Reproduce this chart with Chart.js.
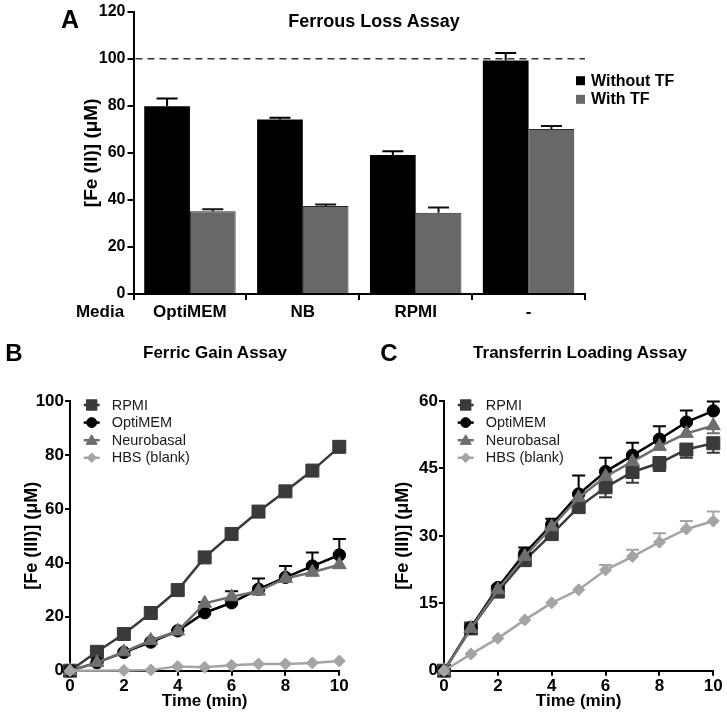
<!DOCTYPE html>
<html><head><meta charset="utf-8">
<script src="https://cdn.jsdelivr.net/npm/chart.js@4.4.1/dist/chart.umd.min.js"></script>
<style>
html,body{margin:0;padding:0;background:#fff;width:727px;height:715px;overflow:hidden}
body{position:relative;font-family:"Liberation Sans",Arial,sans-serif}
canvas{position:absolute}
.t{position:absolute;font-weight:bold;color:#000;white-space:nowrap;line-height:1;transform:translate(-50%,-50%)}
</style></head><body>
<canvas id="cA" width="727" height="330" style="left:0;top:0"></canvas>
<canvas id="cB" width="364" height="385" style="left:0;top:330px"></canvas>
<canvas id="cC" width="363" height="385" style="left:364px;top:330px"></canvas>
<div class="t" style="left:70px;top:19px;font-size:25px">A</div>
<div class="t" style="left:374px;top:21px;font-size:18px">Ferrous Loss Assay</div>
<div class="t" style="left:100px;top:311px;font-size:17px">Media</div>
<div class="t" style="left:14px;top:353px;font-size:24px">B</div>
<div class="t" style="left:215px;top:352px;font-size:17px">Ferric Gain Assay</div>
<div class="t" style="left:389px;top:353px;font-size:24px">C</div>
<div class="t" style="left:580px;top:352px;font-size:17px">Transferrin Loading Assay</div>
<script>
// ---------- Panel A data ----------
const mediaLabels = ['OptiMEM', 'NB', 'RPMI', '-'];
const withoutTF = [79.8, 74.2, 59.1, 99.3];
const withTF = [35.2, 37.4, 34.5, 70.1];
const withoutTFErr = [3.3, 0.7, 1.6, 3.1];
const withTFErr = [0.8, 0.6, 2.3, 1.3];
const yTicksA = [0, 20, 40, 60, 80, 100, 120];
const refLineA = 100;

// ---------- Panel B data ----------
const times = [0, 1, 2, 3, 4, 5, 6, 7, 8, 9, 10];
const rpmiB = [0, 7.0, 13.6, 21.4, 29.9, 42.0, 50.7, 59.0, 66.5, 74.2, 83.0];
const optiB = [0, 3.0, 6.8, 10.6, 14.8, 21.5, 25.2, 30.2, 34.6, 38.8, 42.9];
const neuroB = [0, 3.0, 7.0, 11.2, 14.7, 25.0, 27.4, 29.5, 34.2, 36.5, 39.3];
const hbsB = [0, null, 0.1, 0.3, 1.6, 1.3, 2.0, 2.5, 2.5, 2.9, 3.6];
const rpmiBErrUp = [0, 0, 0, 0, 0, 0, 0, 0, 0, 0, 2.0];
const optiBErrUp = [0, 0, 0, 0, 0, 4.0, 4.3, 4.0, 4.2, 5.0, 5.9];
const xTicksBC = [0, 2, 4, 6, 8, 10];
const yTicksB = [0, 20, 40, 60, 80, 100];

// ---------- Panel C data ----------
const rpmiC = [0, 9.4, 17.6, 24.6, 30.4, 36.4, 40.8, 44.2, 46.2, 49.2, 50.6];
const optiC = [0, 9.6, 18.5, 26.1, 32.5, 39.3, 44.3, 47.9, 51.5, 55.3, 57.8];
const neuroC = [0, 9.4, 18.0, 25.4, 32.0, 38.5, 43.2, 46.5, 49.9, 52.8, 54.5];
const hbsC = [0, 3.7, 7.2, 11.3, 15.1, 18.0, 22.4, 25.4, 28.6, 31.5, 33.3];
const rpmiCErrDown = [0, 0, 0, 0.8, 0.8, 1.3, 2.2, 2.4, 1.8, 1.8, 2.1];
const optiCErrUp = [0, 0, 0, 1.3, 1.3, 4.1, 3.1, 2.8, 2.9, 2.6, 2.1];
const neuroCErrDown = [0, 0, 0, 0, 0, 0, 0, 0, 0, 0, 1.7];
const hbsCErrUp = [0, 0, 0, 0, 0, 0, 1.1, 1.5, 2.0, 1.8, 2.1];
const yTicksC = [0, 15, 30, 45, 60];

const seriesNames = ['RPMI', 'OptiMEM', 'Neurobasal', 'HBS (blank)'];
const seriesColors = ['#3a3a3a', '#000000', '#6e6e6e', '#a4a4a4'];
const seriesStyles = ['rect', 'circle', 'triangle', 'rectRot'];
const seriesRadius = [9.2, 6.2, 8, 6];

Chart.defaults.font.family = '"Liberation Sans", Arial, sans-serif';
Chart.defaults.color = '#000';

function drawMarker(ctx, style, x, y, r, color) {
  ctx.save();
  ctx.fillStyle = color; ctx.strokeStyle = color; ctx.lineWidth = 1;
  ctx.beginPath();
  if (style === 'rect') {
    const s = r * Math.SQRT1_2; ctx.rect(x - s, y - s, 2 * s, 2 * s);
  } else if (style === 'circle') {
    ctx.arc(x, y, r, 0, Math.PI * 2);
  } else if (style === 'triangle') {
    const a = -Math.PI / 2;
    for (let k = 0; k < 3; k++) {
      const ang = a + k * 2 * Math.PI / 3;
      const px = x + r * Math.cos(ang), py = y + r * Math.sin(ang) + r * 0.15;
      k ? ctx.lineTo(px, py) : ctx.moveTo(px, py);
    }
    ctx.closePath();
  } else if (style === 'rectRot') {
    ctx.moveTo(x, y - r); ctx.lineTo(x + r, y); ctx.lineTo(x, y + r); ctx.lineTo(x - r, y); ctx.closePath();
  }
  ctx.fill(); ctx.stroke();
  ctx.restore();
}

function drawErrors(chart, opts) {
  const ctx = chart.ctx;
  chart.data.datasets.forEach((ds, i) => {
    const meta = chart.getDatasetMeta(i);
    const ys = chart.scales[meta.yAxisID];
    meta.data.forEach((el, j) => {
      const raw = ds.data[j];
      const v = (raw && typeof raw === 'object') ? raw.y : raw;
      if (v == null) return;
      const up = ds.errUp ? ds.errUp[j] : 0;
      const dn = ds.errDown ? ds.errDown[j] : 0;
      const x = el.x, y0 = ys.getPixelForValue(v);
      ctx.save();
      ctx.strokeStyle = ds.errColor || '#000';
      ctx.lineWidth = opts.lineWidth;
      ctx.beginPath();
      [[up, 1], [dn, -1]].forEach(([e, sgn]) => {
        if (!e) return;
        const y1 = ys.getPixelForValue(v + sgn * e);
        ctx.moveTo(x, y0); ctx.lineTo(x, y1);
        ctx.moveTo(x - opts.cap / 2, y1); ctx.lineTo(x + opts.cap / 2, y1);
      });
      ctx.stroke();
      ctx.restore();
    });
  });
}
const errorBarsPlugin = {
  id: 'errorBars',
  beforeDatasetsDraw(chart, args, opts) { if (opts.phase === 'before') drawErrors(chart, opts); },
  afterDatasetsDraw(chart, args, opts) { if (opts.phase === 'after') drawErrors(chart, opts); }
};

const refLinePlugin = {
  id: 'refLine',
  afterDatasetsDraw(chart, args, opts) {
    const ctx = chart.ctx, a = chart.chartArea;
    const y = chart.scales.y.getPixelForValue(opts.value);
    ctx.save();
    ctx.strokeStyle = '#333'; ctx.lineWidth = 1.3; ctx.setLineDash([7, 5]);
    ctx.beginPath(); ctx.moveTo(a.left + 2, y); ctx.lineTo(a.right, y); ctx.stroke();
    ctx.restore();
  }
};

const barLegendPlugin = {
  id: 'barLegend',
  afterDraw(chart, args, opts) {
    const ctx = chart.ctx;
    chart.data.datasets.forEach((ds, i) => {
      const y = opts.y + i * opts.rowH;
      ctx.save();
      ctx.fillStyle = ds.backgroundColor;
      ctx.fillRect(opts.x, y - 4.5, 9, 9);
      ctx.fillStyle = '#000';
      ctx.font = 'bold 16px "Liberation Sans", Arial, sans-serif';
      ctx.textBaseline = 'middle';
      ctx.fillText(ds.label, opts.x + 15, y + 0.5);
      ctx.restore();
    });
  }
};

const seriesLegendPlugin = {
  id: 'seriesLegend',
  afterDraw(chart, args, opts) {
    const ctx = chart.ctx;
    chart.data.datasets.forEach((ds, i) => {
      const y = opts.y + i * opts.rowH;
      ctx.save();
      ctx.strokeStyle = ds.borderColor; ctx.lineWidth = 2.5;
      ctx.beginPath(); ctx.moveTo(opts.x - 8, y); ctx.lineTo(opts.x + 8, y); ctx.stroke();
      ctx.restore();
      drawMarker(ctx, ds.pointStyle, opts.x, y, ds.legendRadius, ds.borderColor);
      ctx.save();
      ctx.fillStyle = '#1a1a1a';
      ctx.font = '14.5px "Liberation Sans", Arial, sans-serif';
      ctx.textBaseline = 'middle';
      ctx.fillText(ds.label, opts.x + 20, y + 0.5);
      ctx.restore();
    });
  }
};

function axisCommon(tickLen) {
  return {
    grid: { display: true, drawOnChartArea: false, drawTicks: true, tickLength: tickLen, color: '#000', lineWidth: 2 },
    border: { display: true, color: '#000', width: 2 }
  };
}

// ---------- Chart A ----------
new Chart(document.getElementById('cA'), {
  type: 'bar',
  data: {
    labels: mediaLabels,
    datasets: [
      { label: 'Without TF', data: withoutTF, backgroundColor: '#000000', borderWidth: 0,
        errUp: withoutTFErr, errColor: '#000', categoryPercentage: 0.81, barPercentage: 1.0 },
      { label: 'With TF', data: withTF, backgroundColor: '#686868', borderColor: '#2a2a2a', borderWidth: 1,
        errUp: withTFErr, errColor: '#111', categoryPercentage: 0.81, barPercentage: 1.0 }
    ]
  },
  options: {
    responsive: false, animation: false, events: [],
    layout: { padding: { left: 80.6, right: 142, top: 11.7, bottom: 0 } },
    plugins: {
      legend: { display: false }, tooltip: { enabled: false },
      errorBars: { phase: 'after', cap: 21, lineWidth: 2 },
      refLine: { value: refLineA },
      barLegend: { x: 576, y: 80.7, rowH: 18.6 }
    },
    scales: {
      x: Object.assign(axisCommon(6), {
        afterFit: s => { s.height = 36; },
        ticks: { font: { size: 17, weight: 'bold' }, color: '#000', padding: 2 }
      }),
      y: Object.assign(axisCommon(6), {
        min: 0, max: 120,
        afterBuildTicks: s => { s.ticks = yTicksA.map(v => ({ value: v })); },
        afterFit: s => { s.width = 52.9; },
        ticks: { font: { size: 16, weight: 'bold' }, color: '#000', padding: 2 },
        title: { display: true, text: '[Fe (II)] (μM)', font: { size: 19, weight: 'bold' }, color: '#000', padding: 0 }
      })
    }
  },
  plugins: [errorBarsPlugin, refLinePlugin, barLegendPlugin]
});

// ---------- Line charts ----------
function toXY(xs, ys) { return xs.map((x, i) => ({ x: x, y: ys[i] })); }

function lineDataset(idx, values, errUp, errDown) {
  return {
    label: seriesNames[idx], data: toXY(times, values),
    borderColor: seriesColors[idx], backgroundColor: seriesColors[idx],
    pointBackgroundColor: seriesColors[idx], pointBorderColor: seriesColors[idx],
    pointStyle: seriesStyles[idx], pointRadius: seriesRadius[idx], pointBorderWidth: 1,
    legendRadius: seriesRadius[idx] * 0.8,
    borderWidth: 2.5, tension: 0, spanGaps: true, clip: false,
    errUp: errUp, errDown: errDown, errColor: seriesColors[idx],
    order: 3 - idx
  };
}

function lineOptions(yMax, yTicks, yTitle, padLeft, yWidth, padRight) {
  return {
    responsive: false, animation: false, events: [],
    layout: { padding: { left: padLeft, right: padRight, top: 71, bottom: 3.1 } },
    plugins: {
      legend: { display: false }, tooltip: { enabled: false },
      errorBars: { phase: 'before', cap: 13, lineWidth: 2 },
      seriesLegend: { x: 0, y: 75, rowH: 17.6 }
    },
    scales: {
      x: Object.assign(axisCommon(5), {
        type: 'linear', min: 0, max: 10,
        afterBuildTicks: s => { s.ticks = xTicksBC.map(v => ({ value: v })); },
        afterFit: s => { s.height = 41.2; },
        ticks: { font: { size: 17, weight: 'bold' }, color: '#000', padding: 0 },
        title: { display: true, text: 'Time (min)', font: { size: 17, weight: 'bold' }, color: '#000', padding: 0 }
      }),
      y: Object.assign(axisCommon(5), {
        min: 0, max: yMax,
        afterBuildTicks: s => { s.ticks = yTicks.map(v => ({ value: v })); },
        afterFit: s => { s.width = yWidth; },
        ticks: { font: { size: 17, weight: 'bold' }, color: '#000', padding: 1 },
        title: { display: true, text: yTitle, font: { size: 18, weight: 'bold' }, color: '#000', padding: 0 }
      })
    }
  };
}

const optB = lineOptions(100, yTicksB, '[Fe (III)] (μM)', 21.2, 48.8, 24.7);
optB.plugins.seriesLegend.x = 91.7;
new Chart(document.getElementById('cB'), {
  type: 'line',
  data: { datasets: [
    lineDataset(0, rpmiB, rpmiBErrUp, null),
    lineDataset(1, optiB, optiBErrUp, null),
    lineDataset(2, neuroB, null, null),
    lineDataset(3, hbsB, null, null)
  ] },
  options: optB,
  plugins: [errorBarsPlugin, seriesLegendPlugin]
});

const optC = lineOptions(60, yTicksC, '[Fe (III)] (μM)', 28.2, 51.8, 13.7);
optC.plugins.seriesLegend.x = 101.7;
new Chart(document.getElementById('cC'), {
  type: 'line',
  data: { datasets: [
    lineDataset(0, rpmiC, null, rpmiCErrDown),
    lineDataset(1, optiC, optiCErrUp, null),
    lineDataset(2, neuroC, null, neuroCErrDown),
    lineDataset(3, hbsC, hbsCErrUp, null)
  ] },
  options: optC,
  plugins: [errorBarsPlugin, seriesLegendPlugin]
});
</script>
</body></html>
